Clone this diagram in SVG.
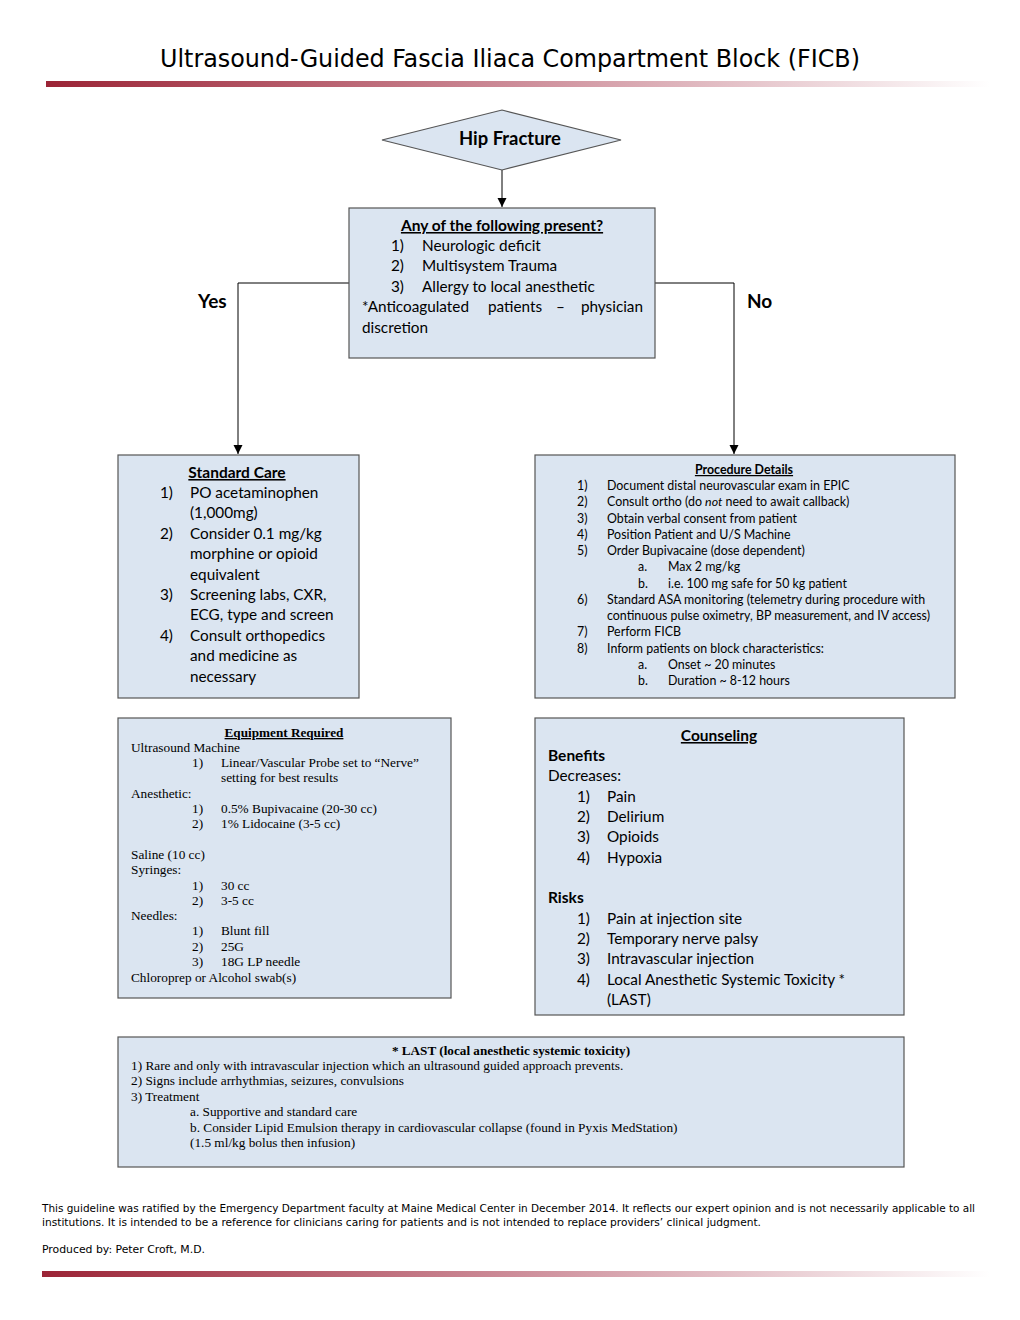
<svg xmlns="http://www.w3.org/2000/svg" width="1020" height="1320" viewBox="0 0 1020 1320">
<style>
.box{fill:#dbe5f1;stroke:#555;stroke-width:1.2}
.c{font-family:Lato,"Open Sans","Liberation Sans",sans-serif;font-size:15.3px;fill:#000}
.cb{font-family:Lato,"Open Sans","Liberation Sans",sans-serif;font-size:15.5px;font-weight:bold;fill:#000}
.s{font-family:Lato,"Open Sans","Liberation Sans",sans-serif;font-size:12.4px;fill:#000}
.t{font-family:"Liberation Serif","Times New Roman",serif;font-size:13.3px;fill:#000}
.tb{font-family:"Liberation Serif","Times New Roman",serif;font-size:13.2px;font-weight:bold;fill:#000}
.f{font-family:"DejaVu Sans Condensed","DejaVu Sans",sans-serif;font-size:10.5px;fill:#000}
.u{text-decoration:underline}
.ln{fill:none;stroke:#000;stroke-width:1}
</style>
<defs>
<linearGradient id="bar" x1="0" x2="1" y1="0" y2="0">
<stop offset="0" stop-color="#9b2436"/>
<stop offset="0.5" stop-color="#cd8d99"/>
<stop offset="1" stop-color="#ffffff"/>
</linearGradient>
<marker id="arr" markerWidth="10" markerHeight="10" refX="9" refY="5" orient="auto" markerUnits="userSpaceOnUse">
<path d="M0,0.5 L9,5 L0,9.5 Z" fill="#000"/>
</marker>
</defs>
<g id="header">
<text x="510" y="67" text-anchor="middle" font-family="'DejaVu Sans Condensed','DejaVu Sans',sans-serif" font-size="25" textLength="700" lengthAdjust="spacingAndGlyphs">Ultrasound-Guided Fascia Iliaca Compartment Block (FICB)</text>
<rect x="46" y="81" width="944" height="6" fill="url(#bar)"/>
</g>
<g id="connectors">
<line class="ln" x1="502" y1="170" x2="502" y2="207" marker-end="url(#arr)"/>
<polyline class="ln" points="349,283 238,283 238,454" marker-end="url(#arr)"/>
<polyline class="ln" points="655,283 734,283 734,454" marker-end="url(#arr)"/>
<text class="cb" x="198" y="308" style="font-size:19px">Yes</text>
<text class="cb" x="747" y="308" style="font-size:19px">No</text>
</g>
<g id="hip-fracture">
<polygon class="box" points="382,140 502,110 621,140 502,170"/>
<text class="cb" x="510" y="145" text-anchor="middle" style="font-size:18.4px">Hip Fracture</text>
</g>
<g id="question">
<rect class="box" x="349" y="208" width="306" height="150"/>
<text class="cb u" x="502" y="231" text-anchor="middle">Any of the following present?</text>
<text class="c" x="391" y="251">1)</text><text class="c" x="422" y="251">Neurologic deficit</text>
<text class="c" x="391" y="271">2)</text><text class="c" x="422" y="271">Multisystem Trauma</text>
<text class="c" x="391" y="292">3)</text><text class="c" x="422" y="292">Allergy to local anesthetic</text>
<text class="c" x="362" y="312">*Anticoagulated</text>
<text class="c" x="488" y="312">patients</text>
<text class="c" x="556" y="312">–</text>
<text class="c" x="643" y="312" text-anchor="end">physician</text>
<text class="c" x="362" y="333">discretion</text>
</g>
<g id="standard-care">
<rect class="box" x="118" y="455" width="241" height="243"/>
<text class="cb u" x="237" y="478" text-anchor="middle">Standard Care</text>
<text class="c" x="160" y="498">1)</text><text class="c" x="190" y="498">PO acetaminophen</text>
<text class="c" x="190" y="518">(1,000mg)</text>
<text class="c" x="160" y="539">2)</text><text class="c" x="190" y="539">Consider 0.1 mg/kg</text>
<text class="c" x="190" y="559">morphine or opioid</text>
<text class="c" x="190" y="580">equivalent</text>
<text class="c" x="160" y="600">3)</text><text class="c" x="190" y="600">Screening labs, CXR,</text>
<text class="c" x="190" y="620">ECG, type and screen</text>
<text class="c" x="160" y="641">4)</text><text class="c" x="190" y="641">Consult orthopedics</text>
<text class="c" x="190" y="661">and medicine as</text>
<text class="c" x="190" y="682">necessary</text>
</g>
<g id="procedure-details">
<rect class="box" x="535" y="455" width="420" height="243"/>
<text class="s u" x="744" y="474" text-anchor="middle" font-weight="bold">Procedure Details</text>
<text class="s" x="577" y="490">1)</text><text class="s" x="607" y="490">Document distal neurovascular exam in EPIC</text>
<text class="s" x="577" y="506">2)</text><text class="s" x="607" y="506">Consult ortho (do <tspan font-style="italic">not</tspan> need to await callback)</text>
<text class="s" x="577" y="523">3)</text><text class="s" x="607" y="523">Obtain verbal consent from patient</text>
<text class="s" x="577" y="539">4)</text><text class="s" x="607" y="539">Position Patient and U/S Machine</text>
<text class="s" x="577" y="555">5)</text><text class="s" x="607" y="555">Order Bupivacaine (dose dependent)</text>
<text class="s" x="638" y="571">a.</text><text class="s" x="668" y="571">Max 2 mg/kg</text>
<text class="s" x="638" y="588">b.</text><text class="s" x="668" y="588">i.e. 100 mg safe for 50 kg patient</text>
<text class="s" x="577" y="604">6)</text><text class="s" x="607" y="604">Standard ASA monitoring (telemetry during procedure with</text>
<text class="s" x="607" y="620">continuous pulse oximetry, BP measurement, and IV access)</text>
<text class="s" x="577" y="636">7)</text><text class="s" x="607" y="636">Perform FICB</text>
<text class="s" x="577" y="653">8)</text><text class="s" x="607" y="653">Inform patients on block characteristics:</text>
<text class="s" x="638" y="669">a.</text><text class="s" x="668" y="669">Onset ~ 20 minutes</text>
<text class="s" x="638" y="685">b.</text><text class="s" x="668" y="685">Duration ~ 8-12 hours</text>
</g>
<g id="equipment">
<rect class="box" x="118" y="718" width="333" height="280"/>
<text class="tb u" x="284" y="737" text-anchor="middle">Equipment Required</text>
<text class="t" x="131" y="752">Ultrasound Machine</text>
<text class="t" x="192" y="767">1)</text><text class="t" x="221" y="767">Linear/Vascular Probe set to “Nerve”</text>
<text class="t" x="221" y="782">setting for best results</text>
<text class="t" x="131" y="798">Anesthetic:</text>
<text class="t" x="192" y="813">1)</text><text class="t" x="221" y="813">0.5% Bupivacaine (20-30 cc)</text>
<text class="t" x="192" y="828">2)</text><text class="t" x="221" y="828">1% Lidocaine (3-5 cc)</text>
<text class="t" x="131" y="859">Saline (10 cc)</text>
<text class="t" x="131" y="874">Syringes:</text>
<text class="t" x="192" y="890">1)</text><text class="t" x="221" y="890">30 cc</text>
<text class="t" x="192" y="905">2)</text><text class="t" x="221" y="905">3-5 cc</text>
<text class="t" x="131" y="920">Needles:</text>
<text class="t" x="192" y="935">1)</text><text class="t" x="221" y="935">Blunt fill</text>
<text class="t" x="192" y="951">2)</text><text class="t" x="221" y="951">25G</text>
<text class="t" x="192" y="966">3)</text><text class="t" x="221" y="966">18G LP needle</text>
<text class="t" x="131" y="982">Chloroprep or Alcohol swab(s)</text>
</g>
<g id="counseling">
<rect class="box" x="535" y="718" width="369" height="297"/>
<text class="cb u" x="719" y="741" text-anchor="middle">Counseling</text>
<text class="cb" x="548" y="761">Benefits</text>
<text class="c" x="548" y="781">Decreases:</text>
<text class="c" x="577" y="802">1)</text><text class="c" x="607" y="802">Pain</text>
<text class="c" x="577" y="822">2)</text><text class="c" x="607" y="822">Delirium</text>
<text class="c" x="577" y="842">3)</text><text class="c" x="607" y="842">Opioids</text>
<text class="c" x="577" y="863">4)</text><text class="c" x="607" y="863">Hypoxia</text>
<text class="cb" x="548" y="903">Risks</text>
<text class="c" x="577" y="924">1)</text><text class="c" x="607" y="924">Pain at injection site</text>
<text class="c" x="577" y="944">2)</text><text class="c" x="607" y="944">Temporary nerve palsy</text>
<text class="c" x="577" y="964">3)</text><text class="c" x="607" y="964">Intravascular injection</text>
<text class="c" x="577" y="985">4)</text><text class="c" x="607" y="985">Local Anesthetic Systemic Toxicity *</text>
<text class="c" x="607" y="1005">(LAST)</text>
</g>
<g id="last">
<rect class="box" x="118" y="1037" width="786" height="130"/>
<text class="tb" x="511" y="1055" text-anchor="middle">* LAST (local anesthetic systemic toxicity)</text>
<text class="t" x="131" y="1070">1) Rare and only with intravascular injection which an ultrasound guided approach prevents.</text>
<text class="t" x="131" y="1085">2)  Signs include arrhythmias, seizures, convulsions</text>
<text class="t" x="131" y="1101">3) Treatment</text>
<text class="t" x="190" y="1116">a. Supportive and standard care</text>
<text class="t" x="190" y="1132">b. Consider Lipid Emulsion therapy in cardiovascular collapse (found in Pyxis MedStation)</text>
<text class="t" x="190" y="1147">(1.5 ml/kg bolus then infusion)</text>
</g>
<g id="footer">
<text class="f" x="42" y="1212" textLength="933" lengthAdjust="spacingAndGlyphs">This guideline was ratified by the Emergency Department faculty at Maine Medical Center in December 2014. It reflects our expert opinion and is not necessarily applicable to all</text>
<text class="f" x="42" y="1226" textLength="719" lengthAdjust="spacingAndGlyphs">institutions. It is intended to be a reference for clinicians caring for patients and is not intended to replace providers’ clinical judgment.</text>
<text class="f" x="42" y="1253" textLength="163" lengthAdjust="spacingAndGlyphs">Produced by: Peter Croft, M.D.</text>
<rect x="42" y="1271" width="948" height="6" fill="url(#bar)"/>
</g>
</svg>
